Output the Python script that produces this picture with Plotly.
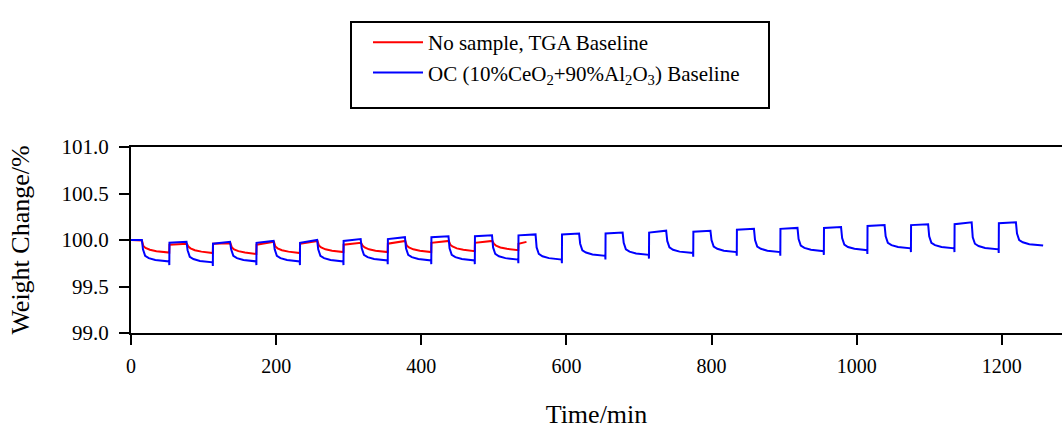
import plotly.graph_objects as go

# ---- data (time in min, weight change in %) ----
blue_time = [
    0, 15,
    16.5, 19.5, 24.5, 33.5, 52.5, 52.8,
    53, 76.5, 78, 81, 86, 95, 112.5, 112.8,
    113, 136.5, 138, 141, 146, 155, 172.5, 172.8,
    173, 196.5, 198, 201, 206, 215, 232.5, 232.8,
    233, 256.5, 258, 261, 266, 275, 292.5, 292.8,
    293, 316.5, 318, 321, 326, 335, 353.5, 353.8,
    354, 377.5, 379, 382, 387, 396, 413.5, 413.8,
    414, 437.5, 439, 442, 447, 456, 473.5, 473.8,
    474, 497.5, 499, 502, 507, 516, 533.5, 533.8,
    534, 557.5, 559, 562, 567, 576, 593.5, 593.8,
    594, 617.5, 619, 622, 627, 636, 653.5, 653.8,
    654, 677.5, 679, 682, 687, 696, 713.5, 713.8,
    714, 737.5, 739, 742, 747, 756, 774.5, 774.8,
    775, 798.5, 800, 803, 808, 817, 834.5, 834.8,
    835, 858.5, 860, 863, 868, 877, 894.5, 894.8,
    895, 918.5, 920, 923, 928, 937, 954.5, 954.8,
    955, 978.5, 980, 983, 988, 997, 1014.5, 1014.8,
    1015, 1038.5, 1040, 1043, 1048, 1057, 1074.5, 1074.8,
    1075, 1098.5, 1100, 1103, 1108, 1117, 1134.5, 1134.8,
    1135, 1158.5, 1160, 1163, 1168, 1177, 1195.5, 1195.8,
    1196, 1219.5, 1221, 1224, 1229, 1238, 1257,
]
blue_weight = [
    100.00, 100.00,
    99.90, 99.83, 99.805, 99.785, 99.77, 99.73,
    99.97, 99.98, 99.89, 99.82, 99.795, 99.775, 99.76, 99.72,
    99.96, 99.98, 99.90, 99.83, 99.805, 99.785, 99.77, 99.73,
    99.97, 99.99, 99.90, 99.83, 99.805, 99.785, 99.77, 99.73,
    99.97, 100.00, 99.90, 99.83, 99.805, 99.785, 99.77, 99.73,
    99.99, 100.01, 99.91, 99.84, 99.815, 99.795, 99.78, 99.74,
    100.01, 100.03, 99.91, 99.84, 99.815, 99.795, 99.78, 99.74,
    100.03, 100.04, 99.91, 99.84, 99.815, 99.795, 99.78, 99.74,
    100.04, 100.05, 99.92, 99.85, 99.825, 99.805, 99.79, 99.75,
    100.05, 100.06, 99.92, 99.85, 99.825, 99.805, 99.79, 99.75,
    100.06, 100.07, 99.96, 99.89, 99.865, 99.845, 99.83, 99.79,
    100.07, 100.08, 99.97, 99.90, 99.875, 99.855, 99.84, 99.80,
    100.08, 100.10, 99.99, 99.92, 99.895, 99.875, 99.86, 99.82,
    100.09, 100.10, 100.00, 99.93, 99.905, 99.885, 99.87, 99.83,
    100.11, 100.12, 100.00, 99.93, 99.905, 99.885, 99.87, 99.83,
    100.12, 100.13, 100.01, 99.94, 99.915, 99.895, 99.88, 99.84,
    100.13, 100.14, 100.02, 99.95, 99.925, 99.905, 99.89, 99.85,
    100.15, 100.16, 100.04, 99.97, 99.945, 99.925, 99.91, 99.87,
    100.16, 100.17, 100.04, 99.97, 99.945, 99.925, 99.91, 99.87,
    100.17, 100.19, 100.03, 99.96, 99.935, 99.915, 99.90, 99.86,
    100.18, 100.19, 100.07, 100.00, 99.975, 99.955, 99.94,
]

red_time = [
    0, 15,
    17, 20, 26, 35, 52.7,
    53, 77, 79, 82, 88, 97, 112.7,
    113, 137, 139, 142, 148, 157, 172.7,
    173, 197, 199, 202, 208, 217, 232.7,
    233, 257, 259, 262, 268, 277, 292.7,
    293, 317, 319, 322, 328, 337, 353.7,
    354, 378, 380, 383, 389, 398, 413.7,
    414, 438, 440, 443, 449, 458, 473.7,
    474, 498, 500, 503, 509, 518, 533.7,
    534, 545,
]
red_weight = [
    100.00, 99.995,
    99.935, 99.915, 99.895, 99.88, 99.865,
    99.95, 99.96, 99.93, 99.91, 99.89, 99.875, 99.86,
    99.96, 99.965, 99.92, 99.90, 99.88, 99.865, 99.85,
    99.95, 99.98, 99.93, 99.91, 99.89, 99.875, 99.86,
    99.96, 99.99, 99.94, 99.92, 99.90, 99.885, 99.87,
    99.95, 99.97, 99.94, 99.92, 99.90, 99.885, 99.87,
    99.96, 99.99, 99.94, 99.92, 99.90, 99.885, 99.87,
    99.97, 99.99, 99.95, 99.93, 99.91, 99.895, 99.88,
    99.97, 99.99, 99.96, 99.94, 99.92, 99.905, 99.89,
    99.96, 99.98,
]

series_names = ["No sample, TGA Baseline",
                "OC (10%CeO<sub>2</sub>+90%Al<sub>2</sub>O<sub>3</sub>) Baseline"]
x_ticks = [0, 200, 400, 600, 800, 1000, 1200]
y_ticks = [99.0, 99.5, 100.0, 100.5, 101.0]
y_tick_text = ["99.0", "99.5", "100.0", "100.5", "101.0"]

FONT = "Liberation Serif"

fig = go.Figure()
fig.add_trace(go.Scatter(x=red_time, y=red_weight, mode="lines",
                         name=series_names[0],
                         line=dict(color="#FF0000", width=2)))
fig.add_trace(go.Scatter(x=blue_time, y=blue_weight, mode="lines",
                         name=series_names[1],
                         line=dict(color="#0000FF", width=2)))

L, R, T, B = 131, 0, 147, 96
W, H = 1062, 429
pw = W - L - R
ph = H - T - B

def px_x(p):
    return (p - L) / pw

def px_y(p):
    return (H - B - p) / ph

fig.add_shape(type="rect", xref="paper", yref="paper",
              x0=px_x(351), x1=px_x(769), y0=px_y(108), y1=px_y(22),
              line=dict(color="black", width=2), fillcolor="rgba(0,0,0,0)")

fig.update_layout(
    width=W, height=H,
    margin=dict(l=L, r=R, t=T, b=B, pad=0),
    paper_bgcolor="white", plot_bgcolor="white",
    font=dict(family=FONT, color="black", size=20),
    showlegend=True,
    legend=dict(x=px_x(368), y=px_y(22), xanchor="left", yanchor="top",
                bgcolor="rgba(0,0,0,0)", borderwidth=0,
                font=dict(family=FONT, size=21, color="black"),
                itemwidth=50, tracegroupgap=0),
    xaxis=dict(range=[0, 1283], tickvals=x_ticks, ticks="outside",
               ticklen=10, tickwidth=2, tickcolor="black",
               showline=True, linecolor="black", linewidth=2, mirror=True,
               showgrid=False, zeroline=False, ticklabelstandoff=4,
               tickfont=dict(family=FONT, size=20, color="black"),
               title=dict(text="Time/min", font=dict(family=FONT, size=26),
                          standoff=31)),
    yaxis=dict(range=[99.0, 101.0], tickvals=y_ticks, ticktext=y_tick_text,
               ticks="outside", ticklen=10, tickwidth=2, tickcolor="black",
               showline=True, linecolor="black", linewidth=2,
               showgrid=False, zeroline=False, ticklabelstandoff=6,
               tickfont=dict(family=FONT, size=21, color="black"),
               title=dict(text="Weight Change/%", font=dict(family=FONT, size=26),
                          standoff=24)),
)

fig.write_html("out.html")
